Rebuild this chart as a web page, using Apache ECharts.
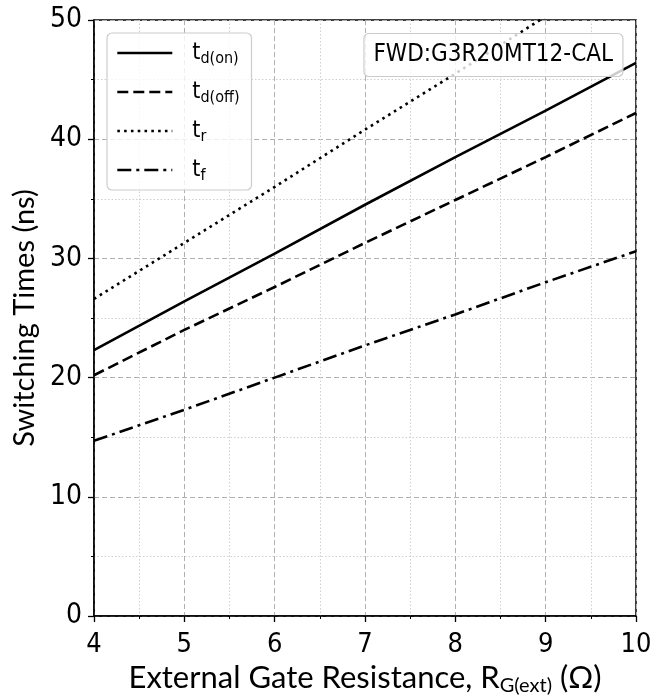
<!DOCTYPE html>
<html><head><meta charset="utf-8">
<script src="https://cdn.jsdelivr.net/npm/echarts@6/dist/echarts.min.js"></script>
<style>html,body{margin:0;padding:0;background:#fff}#c{width:665px;height:698px}</style>
</head><body><div id="c"></div>
<script>
const rg = [4, 5, 6, 7, 8, 9, 10];
const tdOn = [22.3, 26.4, 30.4, 34.5, 38.5, 42.4, 46.4];
const tdOff = [20.2, 24.0, 27.6, 31.3, 34.9, 38.5, 42.2];
const tR = [26.6, 31.3, 36.0, 40.8, 45.5, 50.3, 55.0];
const tF = [14.7, 17.3, 20.0, 22.7, 25.3, 28.0, 30.6];
const yTicks = [0, 10, 20, 30, 40, 50];
const xTicks = [4, 5, 6, 7, 8, 9, 10];
const seriesNames = ['td(on)', 'td(off)', 'tr', 'tf'];
const subs = {'td(on)': 'd(on)', 'td(off)': 'd(off)', 'tr': 'r', 'tf': 'f'};

const pairs = v => rg.map((x, i) => [x, v[i]]);
const condensed = '"Liberation Sans Narrow", "DejaVu Sans Condensed", sans-serif';
const gridDashed = {show: true, lineStyle: {color: '#b0b0b0', type: [5, 3], width: 1}};
const minorDotted = {show: true, lineStyle: {color: '#cfcfcf', type: [1.5, 2], width: 1}};

function mkSeries(name, vals, dash) {
  return {
    name, type: 'line', data: pairs(vals), symbol: 'none', showSymbol: false, clip: true,
    lineStyle: {color: '#000', width: 2.6, type: dash},
    itemStyle: {color: '#000'}, z: 3
  };
}

const chart = echarts.init(document.getElementById('c'));
chart.setOption({
  animation: false,
  grid: {left: 94, right: 29, top: 20, bottom: 82, show: true, borderColor: '#000', borderWidth: 1.5,
    backgroundColor: 'transparent', containLabel: false, outerBoundsMode: 'none'},
  title: {
    text: 'FWD:G3R20MT12-CAL', right: 42, top: 33,
    padding: [10, 10, 10, 10],
    backgroundColor: 'rgba(255,255,255,0.8)', borderColor: '#cccccc', borderWidth: 1.2, borderRadius: 5,
    textStyle: {fontFamily: condensed, fontSize: 24, fontWeight: 'normal', color: '#000'}
  },
  legend: {
    orient: 'vertical', left: 107, top: 33,
    padding: [6, 12, 6, 9],
    itemWidth: 55, itemHeight: 14, itemGap: 11,
    backgroundColor: 'rgba(255,255,255,0.8)', borderColor: '#cccccc', borderWidth: 1.2, borderRadius: 5,
    itemStyle: {opacity: 0, borderWidth: 0},
    lineStyle: {opacity: 1, width: 2.6},
    data: seriesNames,
    formatter: n => '{t|t}{s|' + subs[n] + '}',
    textStyle: {
      color: '#000',
      rich: {
        t: {fontFamily: condensed, fontSize: 23, color: '#000', lineHeight: 30, padding: [0, 0, 0, 15]},
        s: {fontFamily: condensed, fontSize: 16, color: '#000', lineHeight: 30, padding: [12, 0, 0, 0]}
      }
    }
  },
  xAxis: {
    type: 'value', min: 4, max: 10, interval: 1,
    name: 'External Gate Resistance, R{s|G(ext)} (Ω)',
    nameLocation: 'middle', nameGap: 36,
    nameTextStyle: {fontFamily: 'Lato, sans-serif', fontSize: 31, color: '#000',
      rich: {s: {fontFamily: 'Lato, sans-serif', fontSize: 20, color: '#000', padding: [14, 0, 0, 0]}}},
    axisLine: {show: true, lineStyle: {color: '#000', width: 1.5}},
    axisTick: {show: true, inside: false, length: 6, lineStyle: {color: '#000', width: 1.3}},
    minorTick: {show: true, splitNumber: 2, length: 3, lineStyle: {color: '#000', width: 1}},
    axisLabel: {fontFamily: condensed, fontSize: 27, color: '#000', margin: 15,
      formatter: v => xTicks.includes(v) ? String(v) : ''},
    splitLine: gridDashed,
    minorSplitLine: minorDotted
  },
  yAxis: {
    type: 'value', min: 0, max: 50, interval: 10,
    name: 'Switching Times (ns)', nameLocation: 'middle', nameGap: 50,
    nameTextStyle: {fontFamily: 'Lato, sans-serif', fontSize: 29, color: '#000'},
    axisLine: {show: true, lineStyle: {color: '#000', width: 1.5}},
    axisTick: {show: true, inside: false, length: 6, lineStyle: {color: '#000', width: 1.3}},
    minorTick: {show: true, splitNumber: 2, length: 3, lineStyle: {color: '#000', width: 1}},
    axisLabel: {fontFamily: condensed, fontSize: 28, color: '#000', margin: 12,
      formatter: v => yTicks.includes(v) ? String(v) : ''},
    splitLine: gridDashed,
    minorSplitLine: minorDotted
  },
  series: [
    mkSeries('td(on)', tdOn, 'solid'),
    mkSeries('td(off)', tdOff, [11, 5]),
    mkSeries('tr', tR, [2.6, 4.2]),
    mkSeries('tf', tF, [14, 5, 3, 5])
  ]
});
</script></body></html>
